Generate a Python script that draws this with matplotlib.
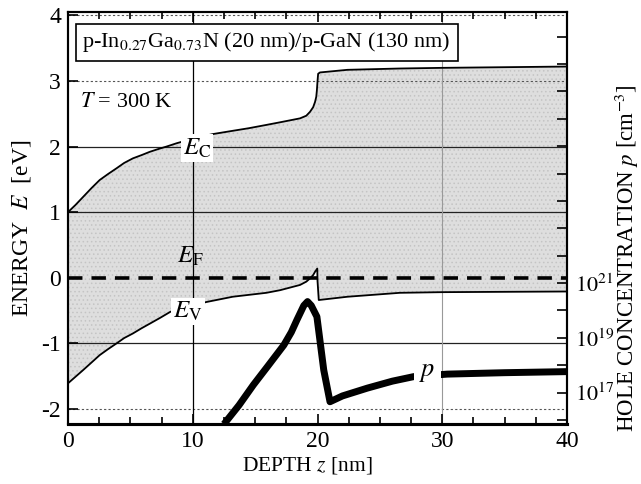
import numpy as np
import matplotlib
matplotlib.use("Agg")
import matplotlib.pyplot as plt
from matplotlib.ticker import FixedLocator, FixedFormatter

plt.rcParams['font.family'] = ['Liberation Serif', 'DejaVu Serif']
plt.rcParams['mathtext.fontset'] = 'stix'
plt.rcParams['hatch.linewidth'] = 0.6

# ---- data ----
depth_ec = [0, 0.6, 1.2, 1.9, 2.54, 3.2, 3.9, 4.5, 5.2, 5.9, 6.56, 7.2, 7.9,
            8.7, 10.0, 11.6, 13.2, 14.5, 15.9, 17.0, 17.8, 18.6, 19.1, 19.4,
            19.65, 19.8, 19.9, 19.95, 20.0, 20.05, 20.2, 22.4, 26.6, 30, 35, 40]
ec = [1.0, 1.11, 1.23, 1.37, 1.49, 1.58, 1.67, 1.75, 1.82, 1.87, 1.92, 1.96,
      2.0, 2.05, 2.12, 2.19, 2.24, 2.28, 2.33, 2.37, 2.40, 2.43, 2.47, 2.53,
      2.60, 2.68, 2.76, 2.86, 3.0, 3.11, 3.13, 3.17, 3.19, 3.2, 3.21, 3.22]

depth_ev = [0, 0.6, 1.2, 1.9, 2.54, 3.2, 3.9, 4.5, 5.2, 5.9, 6.56, 7.4, 8.2,
            9.6, 11.1, 13.2, 15.9, 17.0, 17.8, 18.6, 19.1, 19.4, 19.65, 19.8,
            19.98, 20.0, 20.1, 22.4, 26.6, 30, 35, 40]
ev = [-1.61, -1.51, -1.41, -1.29, -1.18, -1.09, -1.0, -0.92, -0.85, -0.77,
      -0.70, -0.61, -0.52, -0.44, -0.37, -0.29, -0.23, -0.19, -0.15, -0.11,
      -0.06, -0.01, 0.04, 0.09, 0.14, -0.05, -0.34, -0.29, -0.23, -0.22,
      -0.215, -0.21]

depth_p = [12.5, 13.7, 14.86, 16.0, 17.3, 17.9, 18.35, 18.9, 19.2, 19.5,
           19.95, 20.5, 21.0, 22.0, 24.0, 26.0, 27.7, 30.4, 35.0, 40.0]
hole_p = [7.0e15, 3.4e16, 1.9e17, 9.0e17, 5.4e18, 1.6e19, 4.5e19, 1.5e20,
          2.1e20, 1.5e20, 5.9e19, 6.6e17, 4.6e16, 7.5e16, 1.45e17, 2.6e17,
          3.8e17, 4.7e17, 5.3e17, 5.8e17]

fermi_level = 0.0

x_ticks = [0, 10, 20, 30, 40]
y_ticks = [-2, -1, 0, 1, 2, 3, 4]
p_label_exps = [17, 19, 21]

# ---- figure ----
fig = plt.figure(figsize=(6.41, 4.84), dpi=100)
fig.patch.set_facecolor('white')
ax = fig.add_axes([0.1061, 0.124, 0.7785, 0.851])

# band gap shading between EV and EC (stippled grey)
zz = np.union1d(depth_ec, depth_ev)
ax.fill_between(zz, np.interp(zz, depth_ev, ev), np.interp(zz, depth_ec, ec),
                facecolor='#dedede', edgecolor='#c4c4c4', hatch='....',
                lw=0, zorder=0)

# grid lines
for yv in [1, 2, -1]:
    ax.axhline(yv, color='#222222', lw=0.9, zorder=1)
for yv in [3, 4, -2]:
    ax.axhline(yv, color='#555555', lw=0.8, ls=(0, (2, 2)), zorder=1)
ax.axvline(10, color='black', lw=0.9, zorder=1)
ax.axvline(30, color='#999999', lw=0.8, zorder=1)

ax.plot(depth_ec, ec, color='black', lw=1.3, zorder=3)
ax.plot(depth_ev, ev, color='black', lw=1.3, zorder=3)
ax.axhline(fermi_level, color='black', lw=2.6, ls=(0, (4, 2.5)), zorder=3)

ax.set_xlim(0, 40)
ax.set_ylim(-2.23, 4.05)
ax.xaxis.set_major_locator(FixedLocator(x_ticks))
ax.xaxis.set_minor_locator(FixedLocator(np.arange(0, 40.1, 2.5)))
ax.yaxis.set_major_locator(FixedLocator(y_ticks))
ax.tick_params(axis='x', which='both', direction='in', top=True, bottom=True,
               labelsize=17, pad=5)
ax.tick_params(axis='x', which='major', length=7, width=1.2)
ax.tick_params(axis='x', which='minor', length=5, width=1.2)
ax.tick_params(axis='y', which='major', direction='in', left=True, right=False,
               length=7, width=1.2, labelsize=17, pad=5)
ax.set_yticklabels([str(t) for t in y_ticks])

for s in ax.spines.values():
    s.set_linewidth(1.5)
ax.spines['bottom'].set_linewidth(2.2)

# hole concentration axis
ax2 = ax.twinx()
ax2.set_yscale('log')
ax2.set_ylim(10**15.85, 10**30.9)
ax2.plot(depth_p, hole_p, color='black', lw=5, solid_capstyle='butt', zorder=4)
ax2.yaxis.set_major_locator(FixedLocator([10.0**e for e in range(16, 31)]))
ax2.yaxis.set_minor_locator(FixedLocator([]))
ax2.yaxis.set_major_formatter(FixedFormatter(
    ['$10^{%d}$' % e if e in p_label_exps else '' for e in range(16, 31)]))
ax2.tick_params(axis='y', which='major', direction='in', length=7, width=1.2,
                labelsize=16, pad=6)
for s in ax2.spines.values():
    s.set_linewidth(1.5)
ax2.spines['bottom'].set_linewidth(2.2)

# axis titles
fig.text(307 / 641, 1 - 465 / 484, 'DEPTH $z$ [nm]',
         fontsize=15.5, ha='center', va='center')
fig.text(22 / 641, 1 - 228 / 484, 'ENERGY  $E$  [eV]', fontsize=17,
         rotation=90, ha='center', va='center')
fig.text(627 / 641, 1 - 258 / 484, 'HOLE CONCENTRATION $p$ [cm$^{-3}$]',
         fontsize=16.5, rotation=90, ha='center', va='center')

# annotations
ax.text(1.15, 3.59, 'p-In$_{0.27}$Ga$_{0.73}$N (20 nm)/p-GaN (130 nm)',
        fontsize=16, va='center', ha='left', zorder=6,
        bbox=dict(boxstyle='square,pad=0.3', fc='white', ec='black', lw=1.2))
ax.text(1.0, 2.67, '$T$ = 300 K', fontsize=16, va='center', ha='left', zorder=6)
ax.text(10.35, 1.98, '$E_{\\rm C}$', fontsize=18, va='center', ha='center',
        zorder=6, bbox=dict(boxstyle='square,pad=0.08', fc='white', ec='none'))
ax.text(9.8, 0.33, '$E_{\\rm F}$', fontsize=18, va='center', ha='center',
        zorder=6)
ax.text(9.6, -0.52, '$E_{\\rm V}$', fontsize=18, va='center', ha='center',
        zorder=6, bbox=dict(boxstyle='square,pad=0.08', fc='white', ec='none'))
ax2.text(28.8, 10**17.72, '$p$', fontsize=19, va='center', ha='center',
         zorder=6, bbox=dict(boxstyle='square,pad=0.2', fc='white', ec='none'))

ax.set_zorder(ax2.get_zorder() - 1)
ax.patch.set_visible(False)
ax2.patch.set_visible(False)

fig.savefig('out.png', dpi=100)
